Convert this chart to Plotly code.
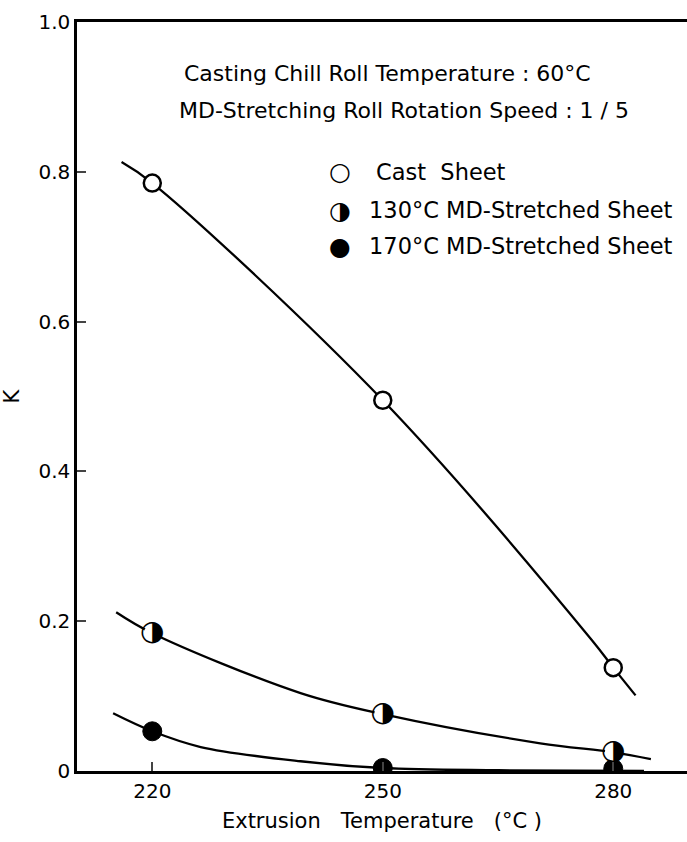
import plotly.graph_objects as go

# Data
temps = [220, 250, 280]
cast_k = [0.785, 0.495, 0.138]
md130_k = [0.184, 0.076, 0.025]
md170_k = [0.053, 0.004, 0.003]

# Hand-drawn fit curves
cast_curve_x = [216.0, 220, 250, 277.2, 280, 282.9]
cast_curve_y = [0.813, 0.785, 0.495, 0.175, 0.138, 0.101]
md130_curve_x = [215.3, 220, 239.3, 250, 270.5, 280, 284.9]
md130_curve_y = [0.212, 0.184, 0.104, 0.076, 0.037, 0.025, 0.016]
md170_curve_x = [214.9, 220, 226.3, 239.3, 250, 265, 284]
md170_curve_y = [0.077, 0.053, 0.032, 0.013, 0.004, 0.001, 0.0]

x_ticks = [220, 250, 280]
y_ticks = [0, 0.2, 0.4, 0.6, 0.8, 1.0]
y_ticklabels = ["0", "0.2", "0.4", "0.6", "0.8", "1.0"]

header_lines = ["Casting Chill Roll Temperature : 60°C",
                "MD-Stretching Roll Rotation Speed : 1 / 5"]
legend_glyphs = ["○", "◑", "●"]
legend_labels = ["Cast  Sheet", "130°C MD-Stretched Sheet", "170°C MD-Stretched Sheet"]

FONT = "DejaVu Sans"
W, H = 687, 842
ml, mr, mt, mb = 77, 0, 22, 71
pw, ph = W - ml - mr, H - mt - mb

fig = go.Figure()

for cx, cy in [(cast_curve_x, cast_curve_y), (md130_curve_x, md130_curve_y),
               (md170_curve_x, md170_curve_y)]:
    fig.add_trace(go.Scatter(x=cx, y=cy, mode="lines",
                             line=dict(color="black", width=2.3, shape="spline", smoothing=1.0),
                             showlegend=False, hoverinfo="skip"))

fig.add_trace(go.Scatter(x=temps, y=cast_k, mode="markers", showlegend=False,
                         marker=dict(symbol="circle", size=17, color="white",
                                     line=dict(color="black", width=2.5))))
fig.add_trace(go.Scatter(x=temps, y=md170_k, mode="markers", showlegend=False,
                         marker=dict(symbol="circle", size=19, color="black",
                                     line=dict(color="black", width=1))))
fig.add_trace(go.Scatter(x=temps, y=md130_k, mode="markers", showlegend=False,
                         marker=dict(symbol="circle", size=17, color="white",
                                     line=dict(color="white", width=0))))
fig.add_trace(go.Scatter(x=temps, y=md130_k, mode="text", text=["◑"] * 3,
                         textposition="middle center", showlegend=False,
                         textfont=dict(family=FONT, size=28, color="black")))


def to_plot(px, py):
    return (px - ml) / pw, 1 - (py - mt) / ph


for txt, px, py in zip(header_lines, [182, 177], [74, 111]):
    x, y = to_plot(px, py)
    fig.add_annotation(text=txt, x=x, y=y, xref="paper", yref="paper",
                       xanchor="left", yanchor="middle", showarrow=False,
                       font=dict(family=FONT, size=22, color="black"))

for g, lab, py, tx in zip(legend_glyphs, legend_labels, [172, 210, 246], [374, 367, 367]):
    x, y = to_plot(340, py)
    fig.add_annotation(text=g, x=x, y=y, xref="paper", yref="paper",
                       xanchor="center", yanchor="middle", showarrow=False,
                       font=dict(family=FONT, size=25, color="black"))
    x, y = to_plot(tx, py)
    fig.add_annotation(text=lab, x=x, y=y, xref="paper", yref="paper",
                       xanchor="left", yanchor="middle", showarrow=False,
                       font=dict(family=FONT, size=22.5, color="black"))

fig.update_layout(
    width=W, height=H,
    margin=dict(l=ml, r=mr, t=mt, b=mb),
    plot_bgcolor="white", paper_bgcolor="white",
    font=dict(family=FONT, size=21, color="black"),
    xaxis=dict(range=[210.2, 289.6], tickvals=x_ticks, ticks="inside", ticklen=9,
               tickwidth=2, showline=True, linecolor="black", linewidth=2.5,
               mirror=True, showgrid=False, zeroline=False,
               tickfont=dict(size=20),
               title=dict(text="Extrusion   Temperature   (°C )", font=dict(size=21), standoff=12)),
    yaxis=dict(range=[0, 1.0], tickvals=y_ticks, ticktext=y_ticklabels,
               ticks="inside", ticklen=9, tickwidth=2, showline=True,
               linecolor="black", linewidth=2.5, showgrid=False, zeroline=False,
               tickfont=dict(size=20),
               title=dict(text="K", font=dict(size=21), standoff=24)),
)

fig.write_html("out.html")
